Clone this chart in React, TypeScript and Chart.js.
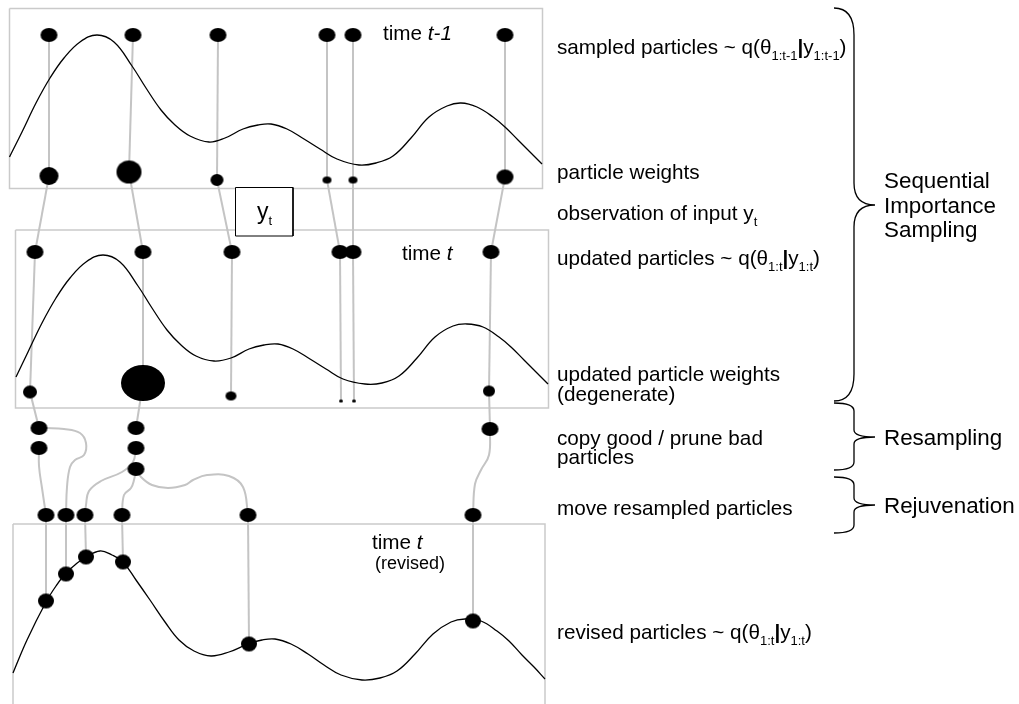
import React, { useEffect, useRef } from "react";
import { Chart, registerables } from "chart.js";

Chart.register(...registerables);

// ---------------- Diagram data (diagram units) ----------------
// panel frames: [left, top, right, bottom]
const framePrev = [9.5, 8.5, 542.5, 188.5];
const frameUpd = [15.5, 230, 548.5, 408];
const frameRev = [13, 524, 545, 706];
const obsBox = [235.5, 187.5, 293, 236];

// particles at time t-1
const sampledX = [49, 133, 218, 327, 353, 505];
const sampledY = [35, 35, 35, 35, 35, 35];
// weights at time t-1 (marker half-width / half-height encode weight)
const prevWeightX = [49, 129, 217, 327, 353, 505];
const prevWeightY = [176, 172, 180, 180, 180, 177];
const prevWeightRx = [9.5, 12.5, 6.5, 4.5, 4.5, 8.5];
const prevWeightRy = [9, 11.5, 6, 3.5, 3.5, 7.5];

// updated particles at time t
const updatedX = [35, 143, 232, 340, 353, 491];
const updatedY = [252, 252, 252, 252, 252, 252];
// updated weights (degenerate)
const updWeightX = [30, 143, 231, 341, 354, 489];
const updWeightY = [392, 383, 396, 401, 401, 391];
const updWeightRx = [7, 22, 5.5, 2, 2, 6];
const updWeightRy = [6.5, 18, 4.5, 1.5, 1.5, 5.5];

// resampled copies
const resampledX = [39, 39, 136, 136, 136, 490];
const resampledY = [428, 448, 428, 448, 469, 429];
const resampleParent = [0, 1, 5]; // updated-weight index feeding each first copy
const resampleFirstCopy = [0, 2, 5];

// moved (rejuvenated) particles
const movedX = [46, 66, 85, 122, 248, 473];
const movedY = [515, 515, 515, 515, 515, 515];
// revised particles on the new density
const revisedX = [46, 66, 86, 123, 249, 473];
const revisedY = [601, 574, 557, 562, 644, 621];

// resampled -> moved links
const linkAX = [39, 39, 42, 46];
const linkAY = [448, 466, 488, 515];
const linkBX = [39, 46, 64, 80, 86, 84, 75, 70, 67, 66];
const linkBY = [428, 428, 429, 433, 443, 455, 460, 467, 487, 515];
const linkCX = [136, 133, 122, 101, 89, 86, 85];
const linkCY = [448, 462, 472, 481, 491, 505, 515];
const linkDX = [136, 134, 131, 124, 122];
const linkDY = [469, 480, 488, 495, 515];
const linkEX = [136, 141, 152, 168, 185, 193, 207, 229, 243, 248];
const linkEY = [469, 477, 485, 488, 485, 480, 475, 476, 487, 515];
const linkFX = [490, 489, 481, 475, 473];
const linkFY = [429, 455, 470, 484, 515];

// target densities
const densityPrevX = [9.5, 22, 36, 50, 64, 80, 97, 114, 132, 146, 161, 175, 190, 209, 225, 243, 258, 271, 287, 304, 320, 337, 359, 376, 393, 411, 429, 447, 461, 477, 493, 505, 518, 530, 542];
const densityPrevY = [157, 132, 103, 78, 58, 42, 35, 42, 66, 88, 110, 125, 136, 142, 138, 129, 125, 124, 129, 139, 149, 159, 165, 163, 156, 138, 117, 106, 103, 107, 117, 127, 140, 152, 164];
const densityUpdX = [16, 28, 42, 56, 70, 86, 103, 120, 138, 152, 167, 181, 196, 214, 231, 249, 264, 278, 293, 310, 326, 343, 365, 382, 399, 417, 435, 453, 467, 483, 499, 511, 524, 536, 548];
const densityUpdY = [377, 352, 323, 298, 278, 262, 255, 262, 286, 308, 330, 345, 356, 361, 358, 349, 345, 344, 349, 359, 369, 379, 384, 383, 376, 358, 337, 326, 324, 327, 337, 347, 360, 372, 384];
const densityRevX = [13, 27, 46, 56, 66, 76, 86, 100, 112, 123, 136, 150, 165, 179, 194, 211, 229, 248, 262, 275, 291, 308, 324, 341, 362, 380, 397, 415, 433, 451, 465, 481, 497, 509, 522, 534, 545];
const densityRevY = [673, 640, 602, 586, 573, 564, 557, 551, 555, 562, 580, 600, 622, 640, 651, 656, 652, 644, 640, 639, 644, 654, 665, 675, 680, 678, 671, 654, 634, 622, 619, 621, 631, 641, 655, 667, 679];

// braces on the right
const braceLabels = [["Sequential", "Importance", "Sampling"], ["Resampling"], ["Rejuvenation"]];
const braceTop = [8, 403, 477];
const braceTip = [205, 437, 505];
const braceBottom = [401, 470, 533];

// text labels: [x, y, size, parts] ; parts kind: n normal, i italic, s subscript, b bold
type Part = [string, string];
const labels: [number, number, number, Part[]][] = [
  [383, 33, 20.7, [["time ", "n"], ["t-1", "i"]]],
  [557, 47, 20.7, [["sampled particles ~ q(θ", "n"], ["1:t-1", "s"], ["|", "b"], ["y", "n"], ["1:t-1", "s"], [")", "n"]]],
  [557, 172, 20.7, [["particle weights", "n"]]],
  [557, 213, 20.7, [["observation of input y", "n"], ["t", "s"]]],
  [257, 211, 23, [["y", "n"], ["t", "s"]]],
  [402, 253, 20.7, [["time ", "n"], ["t", "i"]]],
  [557, 258, 20.7, [["updated particles ~ q(θ", "n"], ["1:t", "s"], ["|", "b"], ["y", "n"], ["1:t", "s"], [")", "n"]]],
  [557, 374, 20.7, [["updated particle weights", "n"]]],
  [557, 394, 20.7, [["(degenerate)", "n"]]],
  [557, 438, 20.7, [["copy good / prune bad", "n"]]],
  [557, 457, 20.7, [["particles", "n"]]],
  [557, 508, 20.7, [["move resampled particles", "n"]]],
  [372, 542, 20.7, [["time ", "n"], ["t", "i"]]],
  [375, 563, 18, [["(revised)", "n"]]],
  [557, 632, 20.7, [["revised particles ~ q(θ", "n"], ["1:t", "s"], ["|", "b"], ["y", "n"], ["1:t", "s"], [")", "n"]]],
];

// ---------------- helpers ----------------
const FONT = '"Liberation Sans", Arial, sans-serif';
const GRAY = "#c4c4c4";
const FRAME = "#cacaca";

function pts(xs: number[], ys: number[]) {
  return xs.map((x, i) => ({ x, y: ys[i] }));
}
function rect(r: number[]) {
  const [l, t, rr, b] = r;
  return [
    { x: l, y: t },
    { x: rr, y: t },
    { x: rr, y: b },
    { x: l, y: b },
    { x: l, y: t },
  ];
}
function sprite(rx: number, ry: number) {
  const c = document.createElement("canvas");
  const w = Math.ceil(rx * 2) + 2;
  const h = Math.ceil(ry * 2) + 2;
  c.width = w;
  c.height = h;
  const g = c.getContext("2d")!;
  g.fillStyle = "#000";
  g.beginPath();
  g.ellipse(w / 2, h / 2, rx, ry, 0, 0, Math.PI * 2);
  g.fill();
  return c;
}

function lineDs(data: any[], color: string, width: number, order: number, extra: any = {}) {
  return {
    data,
    showLine: true,
    borderColor: color,
    borderWidth: width,
    pointRadius: 0,
    pointHoverRadius: 0,
    fill: false,
    tension: 0,
    order,
    ...extra,
  };
}
function particleDs(xs: number[], ys: number[], rx: number[], ry: number[]) {
  return {
    data: pts(xs, ys),
    showLine: false,
    pointStyle: xs.map((_, i) => sprite(rx[i], ry[i])),
    pointRadius: xs.map((_, i) => Math.max(rx[i], 1)),
    pointHoverRadius: xs.map((_, i) => Math.max(rx[i], 1)),
    order: 0,
  };
}
const same = (n: number, v: number) => Array.from({ length: n }, () => v);

function drawRich(ctx: CanvasRenderingContext2D, x: number, y: number, size: number, parts: Part[]) {
  let cx = x;
  const base = y + size * 0.35;
  for (const [t, kind] of parts) {
    let fs = size;
    let by = base;
    let style = "";
    if (kind === "s") {
      fs = 13;
      by = base + size * 0.28;
    }
    if (kind === "i") style = "italic ";
    if (kind === "b") style = "bold ";
    ctx.font = `${style}${fs}px ${FONT}`;
    ctx.fillText(t, cx, by);
    cx += ctx.measureText(t).width;
  }
}

const overlayPlugin = {
  id: "overlay",
  afterDraw(chart: any) {
    const ctx: CanvasRenderingContext2D = chart.ctx;
    const sx = chart.scales.x;
    const sy = chart.scales.y;
    const X = (v: number) => sx.getPixelForValue(v);
    const Y = (v: number) => sy.getPixelForValue(v);
    ctx.save();
    ctx.fillStyle = "#000";
    ctx.textBaseline = "alphabetic";
    ctx.textAlign = "left";
    for (const [x, y, size, parts] of labels) drawRich(ctx, X(x), Y(y), size, parts);

    // braces
    ctx.strokeStyle = "#000";
    ctx.lineWidth = 1.3;
    const x0 = X(834), x1 = X(854), x2 = X(875);
    braceTop.forEach((tp, i) => {
      const t = Y(tp), m = Y(braceTip[i]), b = Y(braceBottom[i]);
      const big = b - t > 150;
      const dEnd = big ? 27 : 8;
      const dTip = big ? 22 : 7;
      ctx.beginPath();
      ctx.moveTo(x0, t);
      ctx.quadraticCurveTo(x1, t, x1, t + dEnd);
      ctx.lineTo(x1, m - dTip);
      ctx.quadraticCurveTo(x1, m, x2, m);
      ctx.quadraticCurveTo(x1, m, x1, m + dTip);
      ctx.lineTo(x1, b - dEnd);
      ctx.quadraticCurveTo(x1, b, x0, b);
      ctx.stroke();
      const lines = braceLabels[i];
      const lh = 24.5;
      const start = braceTip[i] - ((lines.length - 1) * lh) / 2;
      lines.forEach((ln, k) => drawRich(ctx, X(884), Y(start + k * lh), 22.4, [[ln, "n"]]));
    });
    ctx.restore();
  },
};

export default function App() {
  const ref = useRef<HTMLCanvasElement>(null);
  useEffect(() => {
    document.body.style.margin = "0";
    const canvas = ref.current!;
    const datasets: any[] = [];

    // frames
    [framePrev, frameUpd, frameRev].forEach((f) => datasets.push(lineDs(rect(f), FRAME, 1.5, 6)));
    // observation box (white filled)
    datasets.push(lineDs(rect(obsBox), "#000", 1, 2, { fill: "shape", backgroundColor: "#fff" }));

    // densities
    [
      [densityPrevX, densityPrevY],
      [densityUpdX, densityUpdY],
      [densityRevX, densityRevY],
    ].forEach(([xs, ys]) => datasets.push(lineDs(pts(xs, ys), "#000", 1.3, 3, { tension: 0.4 })));

    // straight connectors
    const seg = (ax: number, ay: number, bx: number, by: number) =>
      datasets.push(lineDs([{ x: ax, y: ay }, { x: bx, y: by }], GRAY, 2, 4));
    sampledX.forEach((_, i) => seg(sampledX[i], sampledY[i], prevWeightX[i], prevWeightY[i]));
    prevWeightX.forEach((_, i) => seg(prevWeightX[i], prevWeightY[i], updatedX[i], updatedY[i]));
    updatedX.forEach((_, i) => seg(updatedX[i], updatedY[i], updWeightX[i], updWeightY[i]));
    resampleParent.forEach((p, k) => {
      const c = resampleFirstCopy[k];
      seg(updWeightX[p], updWeightY[p], resampledX[c], resampledY[c]);
    });
    movedX.forEach((_, i) => seg(movedX[i], movedY[i], revisedX[i], revisedY[i]));

    // curved links
    [
      [linkAX, linkAY],
      [linkBX, linkBY],
      [linkCX, linkCY],
      [linkDX, linkDY],
      [linkEX, linkEY],
      [linkFX, linkFY],
    ].forEach(([xs, ys]) => datasets.push(lineDs(pts(xs, ys), GRAY, 2, 4, { tension: 0.4 })));

    // particles
    datasets.push(particleDs(sampledX, sampledY, same(6, 8.5), same(6, 7)));
    datasets.push(particleDs(prevWeightX, prevWeightY, prevWeightRx, prevWeightRy));
    datasets.push(particleDs(updatedX, updatedY, same(6, 8.5), same(6, 7)));
    datasets.push(particleDs(updWeightX, updWeightY, updWeightRx, updWeightRy));
    datasets.push(particleDs(resampledX, resampledY, same(6, 8.5), same(6, 7)));
    datasets.push(particleDs(movedX, movedY, same(6, 8.5), same(6, 7)));
    datasets.push(particleDs(revisedX, revisedY, same(6, 8), same(6, 7.5)));

    const chart = new Chart(canvas, {
      type: "scatter",
      data: { datasets },
      options: {
        responsive: false,
        animation: false,
        devicePixelRatio: 1,
        events: [],
        layout: { padding: 0, autoPadding: false },
        scales: {
          x: { type: "linear", min: 0, max: 1019, display: false },
          y: { type: "linear", min: 0, max: 704, reverse: true, display: false },
        },
        plugins: { legend: { display: false }, tooltip: { enabled: false } },
      } as any,
      plugins: [overlayPlugin],
    });
    return () => chart.destroy();
  }, []);
  return (
    <div style={{ width: 1019, height: 704, background: "#fff" }}>
      <canvas ref={ref} width={1019} height={704} style={{ display: "block", width: 1019, height: 704 }} />
    </div>
  );
}
